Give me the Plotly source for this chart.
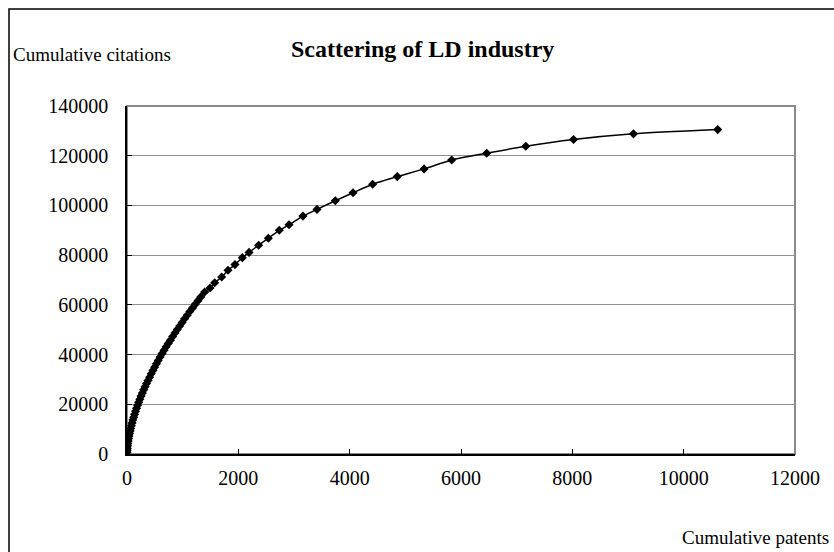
import plotly.graph_objects as go

# Cumulative patents (x) and cumulative citations (y) for the LD industry
cum_patents = [
    1, 3, 6, 10, 15, 21, 28, 36, 45, 55, 66, 78, 91, 105, 120, 136, 153, 171,
    190, 210, 231, 253, 276, 300, 325, 351, 378, 406, 435, 465, 496, 528, 561,
    595, 630, 666, 703, 741, 780, 820, 861, 903, 946, 990, 1035, 1081, 1128,
    1176, 1225, 1275, 1326, 1396, 1491, 1575, 1701, 1814, 1940, 2072, 2192,
    2365, 2539, 2736, 2910, 3161, 3413, 3742, 4060, 4413, 4855, 5337, 5833,
    6462, 7164, 8022, 9098, 10611,
]
cum_citations = [
    700, 1500, 2300, 3300, 4200, 5200, 6200, 7200, 8200, 9300, 10300, 11400,
    12500, 13700, 14800, 16000, 17200, 18400, 19600, 20800, 22000, 23300,
    24500, 25800, 27100, 28400, 29600, 30900, 32300, 33600, 34900, 36300,
    37600, 39000, 40400, 41700, 43100, 44500, 45800, 47300, 48700, 50100,
    51500, 52900, 54400, 55800, 57300, 58700, 60200, 61700, 63200, 65200,
    66800, 68900, 71200, 73900, 76200, 79000, 81100, 84000, 86800, 90000,
    92200, 95700, 98400, 101900, 105100, 108500, 111600, 114700, 118300,
    121000, 123800, 126500, 128800, 130500,
]

x_ticks = [0, 2000, 4000, 6000, 8000, 10000, 12000]
y_ticks = [0, 20000, 40000, 60000, 80000, 100000, 120000, 140000]

title_text = "Scattering of LD industry"
y_title = "Cumulative citations"
x_title = "Cumulative patents"

FONT = "Liberation Serif, Times New Roman, serif"

fig = go.Figure()
fig.add_trace(go.Scatter(
    x=cum_patents,
    y=cum_citations,
    mode="lines+markers",
    line=dict(color="black", width=1.5, shape="spline", smoothing=0.6),
    marker=dict(symbol="diamond", size=7, color="black"),
    showlegend=False,
    hoverinfo="x+y",
))

W, H = 834, 552
L, R, T, B = 127, 39, 106, 98
pw, ph = W - L - R, H - T - B


def px_x(px):
    return (px - L) / pw


def px_y(py):
    return (H - B - py) / ph


fig.update_layout(
    width=W, height=H,
    margin=dict(l=L, r=R, t=T, b=B, pad=0),
    paper_bgcolor="white",
    plot_bgcolor="white",
    font=dict(family=FONT, color="black", size=20),
    xaxis=dict(
        range=[0, 12000], tickvals=x_ticks, ticktext=[str(v) for v in x_ticks],
        showgrid=False, zeroline=False,
        showline=True, linecolor="black", linewidth=1.5,
        ticks="inside", ticklen=5, tickcolor="black", tickwidth=1,
        tickfont=dict(family=FONT, size=20, color="black"),
        ticklabelstandoff=5,
        fixedrange=True,
    ),
    yaxis=dict(
        range=[0, 140000], tickvals=y_ticks, ticktext=[str(v) for v in y_ticks],
        showgrid=True, gridcolor="#8f8f8f", gridwidth=1,
        zeroline=False,
        showline=True, linecolor="black", linewidth=1.5,
        ticks="inside", ticklen=5, tickcolor="black", tickwidth=1,
        tickfont=dict(family=FONT, size=20, color="black"),
        ticklabelstandoff=13,
        fixedrange=True,
    ),
    shapes=[
        # plot-area frame (grey top/right edges)
        dict(type="rect", xref="paper", yref="paper", x0=0, x1=1, y0=0, y1=1,
             line=dict(color="#8a8a8a", width=2), layer="below"),
        # outer chart border
        dict(type="rect", xref="paper", yref="paper",
             x0=px_x(9), x1=px_x(W + 20), y0=px_y(H + 20), y1=px_y(9),
             line=dict(color="black", width=1.5), layer="above"),
    ],
    annotations=[
        dict(text="<b>" + title_text + "</b>", xref="paper", yref="paper",
             x=px_x(422), y=px_y(49), xanchor="center", yanchor="middle",
             showarrow=False, font=dict(family=FONT, size=24, color="black")),
        dict(text=y_title, xref="paper", yref="paper",
             x=px_x(11), y=px_y(54), xanchor="left", yanchor="middle",
             showarrow=False, font=dict(family=FONT, size=19, color="black")),
        dict(text=x_title, xref="paper", yref="paper",
             x=px_x(831), y=px_y(537), xanchor="right", yanchor="middle",
             showarrow=False, font=dict(family=FONT, size=19, color="black")),
    ],
)

fig.write_html("out.html", config={"displayModeBar": False})
